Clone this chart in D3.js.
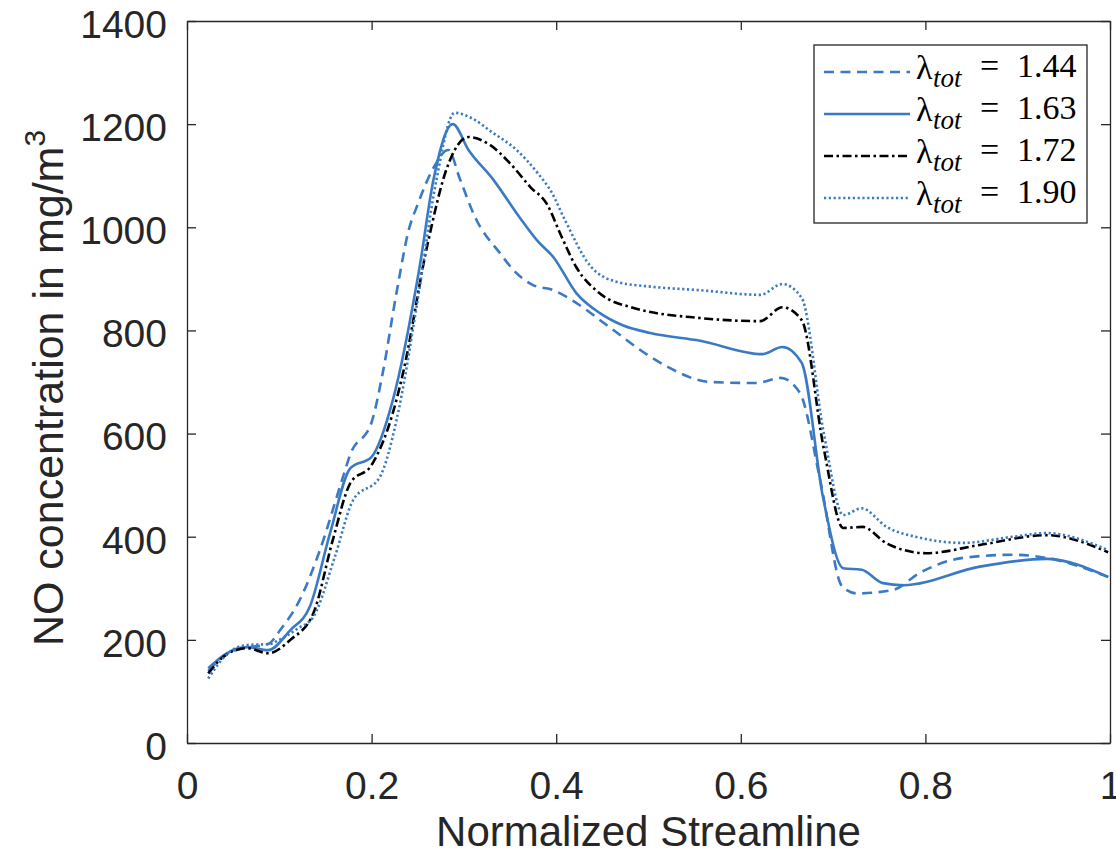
<!DOCTYPE html>
<html>
<head>
<meta charset="utf-8">
<script src="https://cdn.jsdelivr.net/npm/d3@7"></script>
<style>
  body { margin: 0; background: #fff; }
  svg { display: block; }
</style>
</head>
<body>
<div id="chart"></div>
<script>
const width = 1116, height = 862;
const margin = {top: 21, right: 6, bottom: 119, left: 187};
const innerWidth = width - margin.left - margin.right;
const innerHeight = height - margin.top - margin.bottom;

// values: [normalized streamline, NO in mg/m3]
const lambda144 = [[0.023,140],[0.043,172],[0.065,185],[0.088,192],[0.101,219],[0.122,277],[0.144,374],[0.169,516],[0.177,560],[0.2,622],[0.212,717],[0.227,873],[0.241,1000],[0.249,1040],[0.267,1115],[0.283,1150],[0.296,1092],[0.312,1020],[0.339,950],[0.357,911],[0.375,888],[0.397,878],[0.422,853],[0.455,810],[0.502,749],[0.52,730],[0.567,700],[0.617,698],[0.643,708],[0.664,679],[0.686,510],[0.71,303],[0.726,290],[0.765,297],[0.794,330],[0.841,359],[0.895,365],[0.931,359],[0.998,322]];
const lambda163 = [[0.023,145],[0.043,174],[0.065,186],[0.088,180],[0.112,219],[0.133,264],[0.155,407],[0.177,533],[0.2,555],[0.223,665],[0.252,923],[0.267,1092],[0.288,1200],[0.305,1150],[0.332,1092],[0.36,1020],[0.379,975],[0.397,942],[0.422,872],[0.447,834],[0.472,810],[0.502,795],[0.556,780],[0.623,754],[0.645,768],[0.666,737],[0.689,477],[0.711,339],[0.731,336],[0.754,310],[0.776,306],[0.859,342],[0.931,357],[0.998,322]];
const lambda172 = [[0.023,135],[0.043,172],[0.065,184],[0.088,174],[0.112,200],[0.137,252],[0.158,394],[0.177,504],[0.2,539],[0.223,640],[0.234,717],[0.26,962],[0.282,1117],[0.305,1175],[0.328,1160],[0.35,1124],[0.372,1078],[0.39,1045],[0.405,985],[0.422,922],[0.447,872],[0.483,844],[0.556,824],[0.621,818],[0.645,845],[0.666,820],[0.69,570],[0.711,417],[0.732,419],[0.758,387],[0.801,368],[0.859,384],[0.931,403],[0.998,370]];
const lambda190 = [[0.023,125],[0.045,175],[0.065,190],[0.09,192],[0.1,200],[0.12,222],[0.137,245],[0.16,360],[0.18,471],[0.209,516],[0.227,626],[0.25,860],[0.27,1090],[0.29,1222],[0.31,1210],[0.33,1185],[0.357,1150],[0.38,1105],[0.395,1068],[0.41,1012],[0.437,925],[0.466,894],[0.502,885],[0.556,878],[0.621,869],[0.645,890],[0.666,863],[0.69,600],[0.711,442],[0.731,455],[0.758,419],[0.794,398],[0.841,388],[0.895,400],[0.931,407],[0.998,374]];

const seriesLabels = ["1.44", "1.63", "1.72", "1.90"];
const xTicks = [0, 0.2, 0.4, 0.6, 0.8, 1];
const yTicks = [0, 200, 400, 600, 800, 1000, 1200, 1400];

const blue = "#3a7ac5";
const axisColor = "#262626";

const series = [
  {label: seriesLabels[0], values: lambda144, color: blue, dash: "10,6.5"},
  {label: seriesLabels[1], values: lambda163, color: blue, dash: null},
  {label: seriesLabels[2], values: lambda172, color: "#000", dash: "9,3.5,2.5,3.5"},
  {label: seriesLabels[3], values: lambda190, color: blue, dash: "2.2,2.6"}
];

const svg = d3.select("#chart")
  .append("svg")
    .attr("width", width)
    .attr("height", height)
    .attr("viewBox", [0, 0, width, height]);

const innerChart = svg
  .append("g")
    .attr("transform", `translate(${margin.left}, ${margin.top})`);

const xScale = d3.scaleLinear()
  .domain([0, 1])
  .range([0, innerWidth]);

const yScale = d3.scaleLinear()
  .domain([0, 1400])
  .range([innerHeight, 0]);

innerChart.append("defs").append("clipPath")
    .attr("id", "clip")
  .append("rect")
    .attr("width", innerWidth)
    .attr("height", innerHeight);

const lineGenerator = d3.line()
  .x(d => xScale(d[0]))
  .y(d => yScale(d[1]))
  .curve(d3.curveMonotoneX);

series.forEach(s => {
  innerChart.append("path")
    .attr("clip-path", "url(#clip)")
    .attr("d", lineGenerator(s.values))
    .attr("fill", "none")
    .attr("stroke", s.color)
    .attr("stroke-width", 2.6)
    .attr("stroke-dasharray", s.dash)
    .attr("stroke-linejoin", "round");
});

// axes, ticks pointing inwards like matlab
const styleAxis = g => {
  g.select(".domain").attr("stroke", axisColor).attr("stroke-width", 1.3);
  g.selectAll(".tick line").attr("stroke", axisColor).attr("stroke-width", 1.3);
  g.selectAll("text")
    .attr("fill", axisColor)
    .style("font-family", "'Liberation Sans', Arial, sans-serif")
    .style("font-size", "39px");
};

const bottomAxis = d3.axisBottom(xScale)
  .tickValues(xTicks)
  .tickFormat(d3.format("~g"))
  .tickSizeInner(-9)
  .tickSizeOuter(0)
  .tickPadding(28);

innerChart.append("g")
    .attr("transform", `translate(0, ${innerHeight})`)
    .call(bottomAxis)
    .call(styleAxis);

const leftAxis = d3.axisLeft(yScale)
  .tickValues(yTicks)
  .tickFormat(d3.format("d"))
  .tickSizeInner(-9)
  .tickSizeOuter(0)
  .tickPadding(20);

innerChart.append("g")
    .call(leftAxis)
    .call(styleAxis)
    .selectAll("text").attr("dy", "0.42em");

const topAxis = d3.axisTop(xScale)
  .tickValues(xTicks)
  .tickFormat("")
  .tickSizeInner(-9)
  .tickSizeOuter(0);

innerChart.append("g")
    .call(topAxis)
    .call(styleAxis);

const rightAxis = d3.axisRight(yScale)
  .tickValues(yTicks)
  .tickFormat("")
  .tickSizeInner(-9)
  .tickSizeOuter(0);

innerChart.append("g")
    .attr("transform", `translate(${innerWidth}, 0)`)
    .call(rightAxis)
    .call(styleAxis);

// axis titles
svg.append("text")
    .attr("x", margin.left + innerWidth / 2)
    .attr("y", 846)
    .attr("text-anchor", "middle")
    .attr("fill", axisColor)
    .style("font-family", "'Liberation Sans', Arial, sans-serif")
    .style("font-size", "42px")
    .text("Normalized Streamline");

const yTitle = svg.append("text")
    .attr("transform", "translate(63, 388) rotate(-90)")
    .attr("text-anchor", "middle")
    .attr("fill", axisColor)
    .style("font-family", "'Liberation Sans', Arial, sans-serif")
    .style("font-size", "43px");
yTitle.append("tspan").text("NO concentration in mg/m");
yTitle.append("tspan")
    .attr("dy", "-0.6em")
    .style("font-size", "30px")
    .text("3");

// legend
const legend = svg.append("g")
    .attr("transform", "translate(814, 45)");

legend.append("rect")
    .attr("width", 273)
    .attr("height", 178)
    .attr("fill", "#fff")
    .attr("stroke", axisColor)
    .attr("stroke-width", 1.3);

series.forEach((s, i) => {
  const cy = 27 + i * 42;
  legend.append("line")
      .attr("x1", 10)
      .attr("x2", 96)
      .attr("y1", cy)
      .attr("y2", cy)
      .attr("stroke", s.color)
      .attr("stroke-width", 2.6)
      .attr("stroke-dasharray", s.dash);

  const t = legend.append("text")
      .attr("y", cy + 7)
      .attr("fill", "#000")
      .style("font-family", "'Liberation Serif', 'DejaVu Serif', serif")
      .style("font-size", "34px");
  t.append("tspan").attr("x", 102).text("λ");
  t.append("tspan")
      .attr("x", 119)
      .attr("dy", "0.28em")
      .style("font-style", "italic")
      .style("font-size", "27px")
      .text("tot");
  t.append("tspan")
      .attr("x", 166)
      .attr("dy", "-0.28em")
      .text("=");
  t.append("tspan")
      .attr("x", 203)
      .text(s.label);
});
</script>
</body>
</html>
